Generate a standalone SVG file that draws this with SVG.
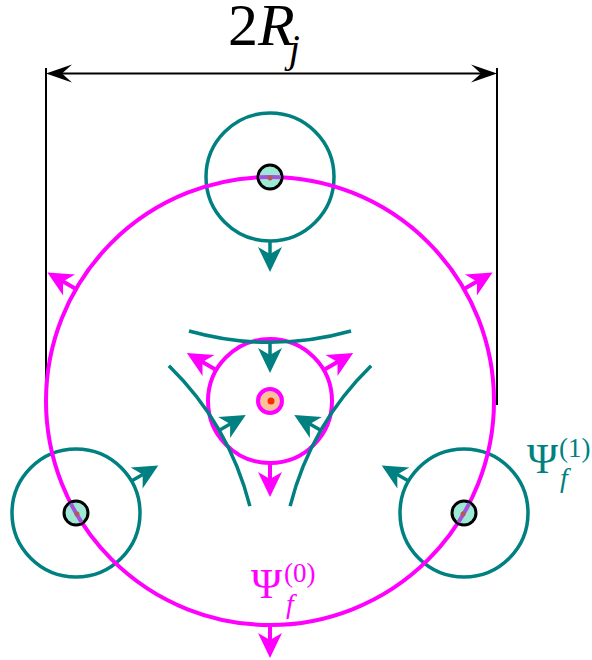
<svg xmlns="http://www.w3.org/2000/svg" width="592" height="660" viewBox="0 0 592 660">
<defs>
<style>
.teal{fill:none;stroke:#008080;stroke-width:3.5}
.mag{fill:none;stroke:#ff00ff;stroke-width:4}
.dim{fill:none;stroke:#000;stroke-width:2}
.node{fill:#9ee8d6;stroke:#000;stroke-width:3}
.lbl{font-family:"Liberation Serif","Times New Roman",serif}
.ta{stroke:#008080;stroke-width:3.5;fill:none;marker-end:url(#ah-teal)}
.ma{stroke:#ff00ff;stroke-width:4;fill:none;marker-end:url(#ah-mag)}
</style>
<marker id="ah-teal" viewBox="-20 -14 32 28" markerWidth="32" markerHeight="28" refX="0" refY="0" orient="auto" markerUnits="userSpaceOnUse">
<path d="M8,0 L-17,-12 L-10,0 L-17,12 Z" fill="#008080"/>
</marker>
<marker id="ah-mag" viewBox="-20 -14 32 28" markerWidth="32" markerHeight="28" refX="0" refY="0" orient="auto" markerUnits="userSpaceOnUse">
<path d="M8,0 L-17,-12 L-10,0 L-17,12 Z" fill="#ff00ff"/>
</marker>
<marker id="ah-blk" viewBox="-24 -14 36 28" markerWidth="36" markerHeight="28" refX="0" refY="0" orient="auto-start-reverse" markerUnits="userSpaceOnUse">
<path d="M8,0 L-18,-9 L-8,0 L-18,9 Z" fill="#000"/>
</marker>
<clipPath id="nodeclip">
<circle cx="270" cy="177" r="11"/>
<circle cx="76" cy="513" r="11"/>
<circle cx="464" cy="513" r="11"/>
</clipPath>
</defs>

<g id="dimension">
<line class="dim" x1="46" y1="68" x2="46" y2="405"/>
<line class="dim" x1="497" y1="68" x2="497" y2="405"/>
<line class="dim" x1="54" y1="73.5" x2="489" y2="73.5" marker-start="url(#ah-blk)" marker-end="url(#ah-blk)"/>
<text class="lbl" x="228" y="45" font-size="60">2<tspan font-style="italic">R</tspan><tspan font-style="italic" font-size="40" dx="-6" dy="17">j</tspan></text>
</g>

<g id="psi1-fields">
<circle class="teal" cx="270" cy="177" r="64"/>
<circle class="teal" cx="76" cy="513" r="64"/>
<circle class="teal" cx="464" cy="513" r="64"/>
</g>

<g id="psi0-field">
<circle class="mag" cx="270" cy="401" r="224"/>
</g>

<g id="node-top">
<circle class="node" cx="270" cy="177" r="12"/>
</g>
<g id="node-left">
<circle class="node" cx="76" cy="513" r="12"/>
</g>
<g id="node-right">
<circle class="node" cx="464" cy="513" r="12"/>
</g>
<g id="node-overlay" clip-path="url(#nodeclip)">
<circle cx="270" cy="401" r="224" fill="none" stroke="#a452dc" stroke-width="4"/>
</g>
<g id="node-dots" fill="#b8555a">
<circle cx="270" cy="178" r="2.5"/>
<circle cx="77" cy="514" r="2.5"/>
<circle cx="463" cy="514" r="2.5"/>
</g>

<g id="center-field">
<circle class="mag" cx="270" cy="401" r="62"/>
</g>

<g id="teal-arcs">
<path class="teal" d="M189,331 A300,300 0 0 0 351,331"/>
<path class="teal" d="M189,331 A300,300 0 0 0 351,331" transform="rotate(120 270 401)"/>
<path class="teal" d="M189,331 A300,300 0 0 0 351,331" transform="rotate(240 270 401)"/>
</g>

<g id="connectors">
<line class="ta" x1="270" y1="241" x2="270" y2="264"/>
<line class="ta" x1="270" y1="241" x2="270" y2="264" transform="rotate(120 270 401)"/>
<line class="ta" x1="270" y1="241" x2="270" y2="264" transform="rotate(240 270 401)"/>
<line class="ta" x1="270" y1="342" x2="270" y2="365"/>
<line class="ta" x1="270" y1="342" x2="270" y2="365" transform="rotate(120 270 401)"/>
<line class="ta" x1="270" y1="342" x2="270" y2="365" transform="rotate(240 270 401)"/>
<line class="ma" x1="270" y1="463" x2="270" y2="489"/>
<line class="ma" x1="270" y1="463" x2="270" y2="489" transform="rotate(120 270 401)"/>
<line class="ma" x1="270" y1="463" x2="270" y2="489" transform="rotate(240 270 401)"/>
<line class="ma" x1="270" y1="625" x2="270" y2="650"/>
<line class="ma" x1="270" y1="625" x2="270" y2="650" transform="rotate(120 270 401)"/>
<line class="ma" x1="270" y1="625" x2="270" y2="650" transform="rotate(240 270 401)"/>
</g>

<g id="core">
<circle cx="270" cy="401" r="12" fill="#f9c29a" stroke="#ff00ff" stroke-width="4"/>
<circle cx="271" cy="401" r="3.5" fill="#ff2a00"/>
</g>

<g id="labels">
<text class="lbl" x="527" y="473" font-size="42" fill="#008080">Ψ</text>
<text class="lbl" x="559" y="457" font-size="27" fill="#008080">(1)</text>
<text class="lbl" x="560" y="487" font-size="28" font-style="italic" fill="#008080">f</text>
<text class="lbl" x="251" y="598" font-size="42" fill="#ff00ff">Ψ</text>
<text class="lbl" x="284" y="582" font-size="27" fill="#ff00ff">(0)</text>
<text class="lbl" x="286" y="613" font-size="28" font-style="italic" fill="#ff00ff">f</text>
</g>
</svg>
